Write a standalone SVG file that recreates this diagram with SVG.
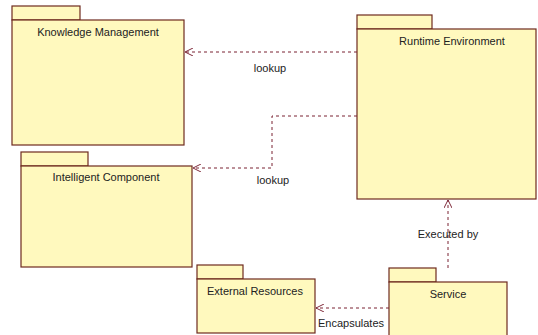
<svg xmlns="http://www.w3.org/2000/svg" width="538" height="335" viewBox="0 0 538 335">
<defs>
<style>
.pk{fill:#FFF9BE;stroke:#6E2A1E;stroke-width:1.2}
.lb{font-family:"Liberation Sans",Arial,sans-serif;font-size:11px;fill:#222;text-anchor:middle}
.cn{fill:none;stroke:#7A2233;stroke-width:1;stroke-dasharray:3,3}
</style>
<marker id="ah" viewBox="0 0 10 10" refX="10" refY="5" markerWidth="8" markerHeight="8" orient="auto" markerUnits="userSpaceOnUse">
<path d="M0,0 L10,5 L0,10" fill="none" stroke="#7A2233" stroke-width="1.2"/>
</marker>
</defs>
<rect width="538" height="335" fill="#fff"/>
<g id="knowledge-management">
<rect class="pk" x="12" y="6" width="68" height="14"/>
<rect class="pk" x="12" y="20" width="172" height="125"/>
<text class="lb" x="98" y="36">Knowledge Management</text>
</g>
<g id="runtime-environment">
<rect class="pk" x="357" y="15" width="75" height="14"/>
<rect class="pk" x="357" y="29" width="179" height="170"/>
<text class="lb" x="452" y="45">Runtime Environment</text>
</g>
<g id="intelligent-component">
<rect class="pk" x="21" y="152" width="67" height="14"/>
<rect class="pk" x="21" y="166" width="171" height="101"/>
<text class="lb" x="106" y="181">Intelligent Component</text>
</g>
<g id="external-resources">
<rect class="pk" x="197" y="265" width="46" height="14"/>
<rect class="pk" x="197" y="279" width="118" height="54"/>
<text class="lb" x="255" y="295">External Resources</text>
</g>
<g id="service">
<rect class="pk" x="389" y="268" width="47" height="14"/>
<rect class="pk" x="389" y="282" width="118" height="60"/>
<text class="lb" x="448" y="298">Service</text>
</g>
<g id="connectors">
<path class="cn" d="M357,52 L185,52" marker-end="url(#ah)"/>
<text class="lb" x="270" y="72">lookup</text>
<path class="cn" d="M357,116 L272,116 L272,168 L193,168" marker-end="url(#ah)"/>
<text class="lb" x="273" y="184">lookup</text>
<path class="cn" d="M448,268 L448,200" marker-end="url(#ah)"/>
<text class="lb" x="448" y="238">Executed by</text>
<path class="cn" d="M389,308 L316,308" marker-end="url(#ah)"/>
<text class="lb" x="351" y="327">Encapsulates</text>
</g>
</svg>
